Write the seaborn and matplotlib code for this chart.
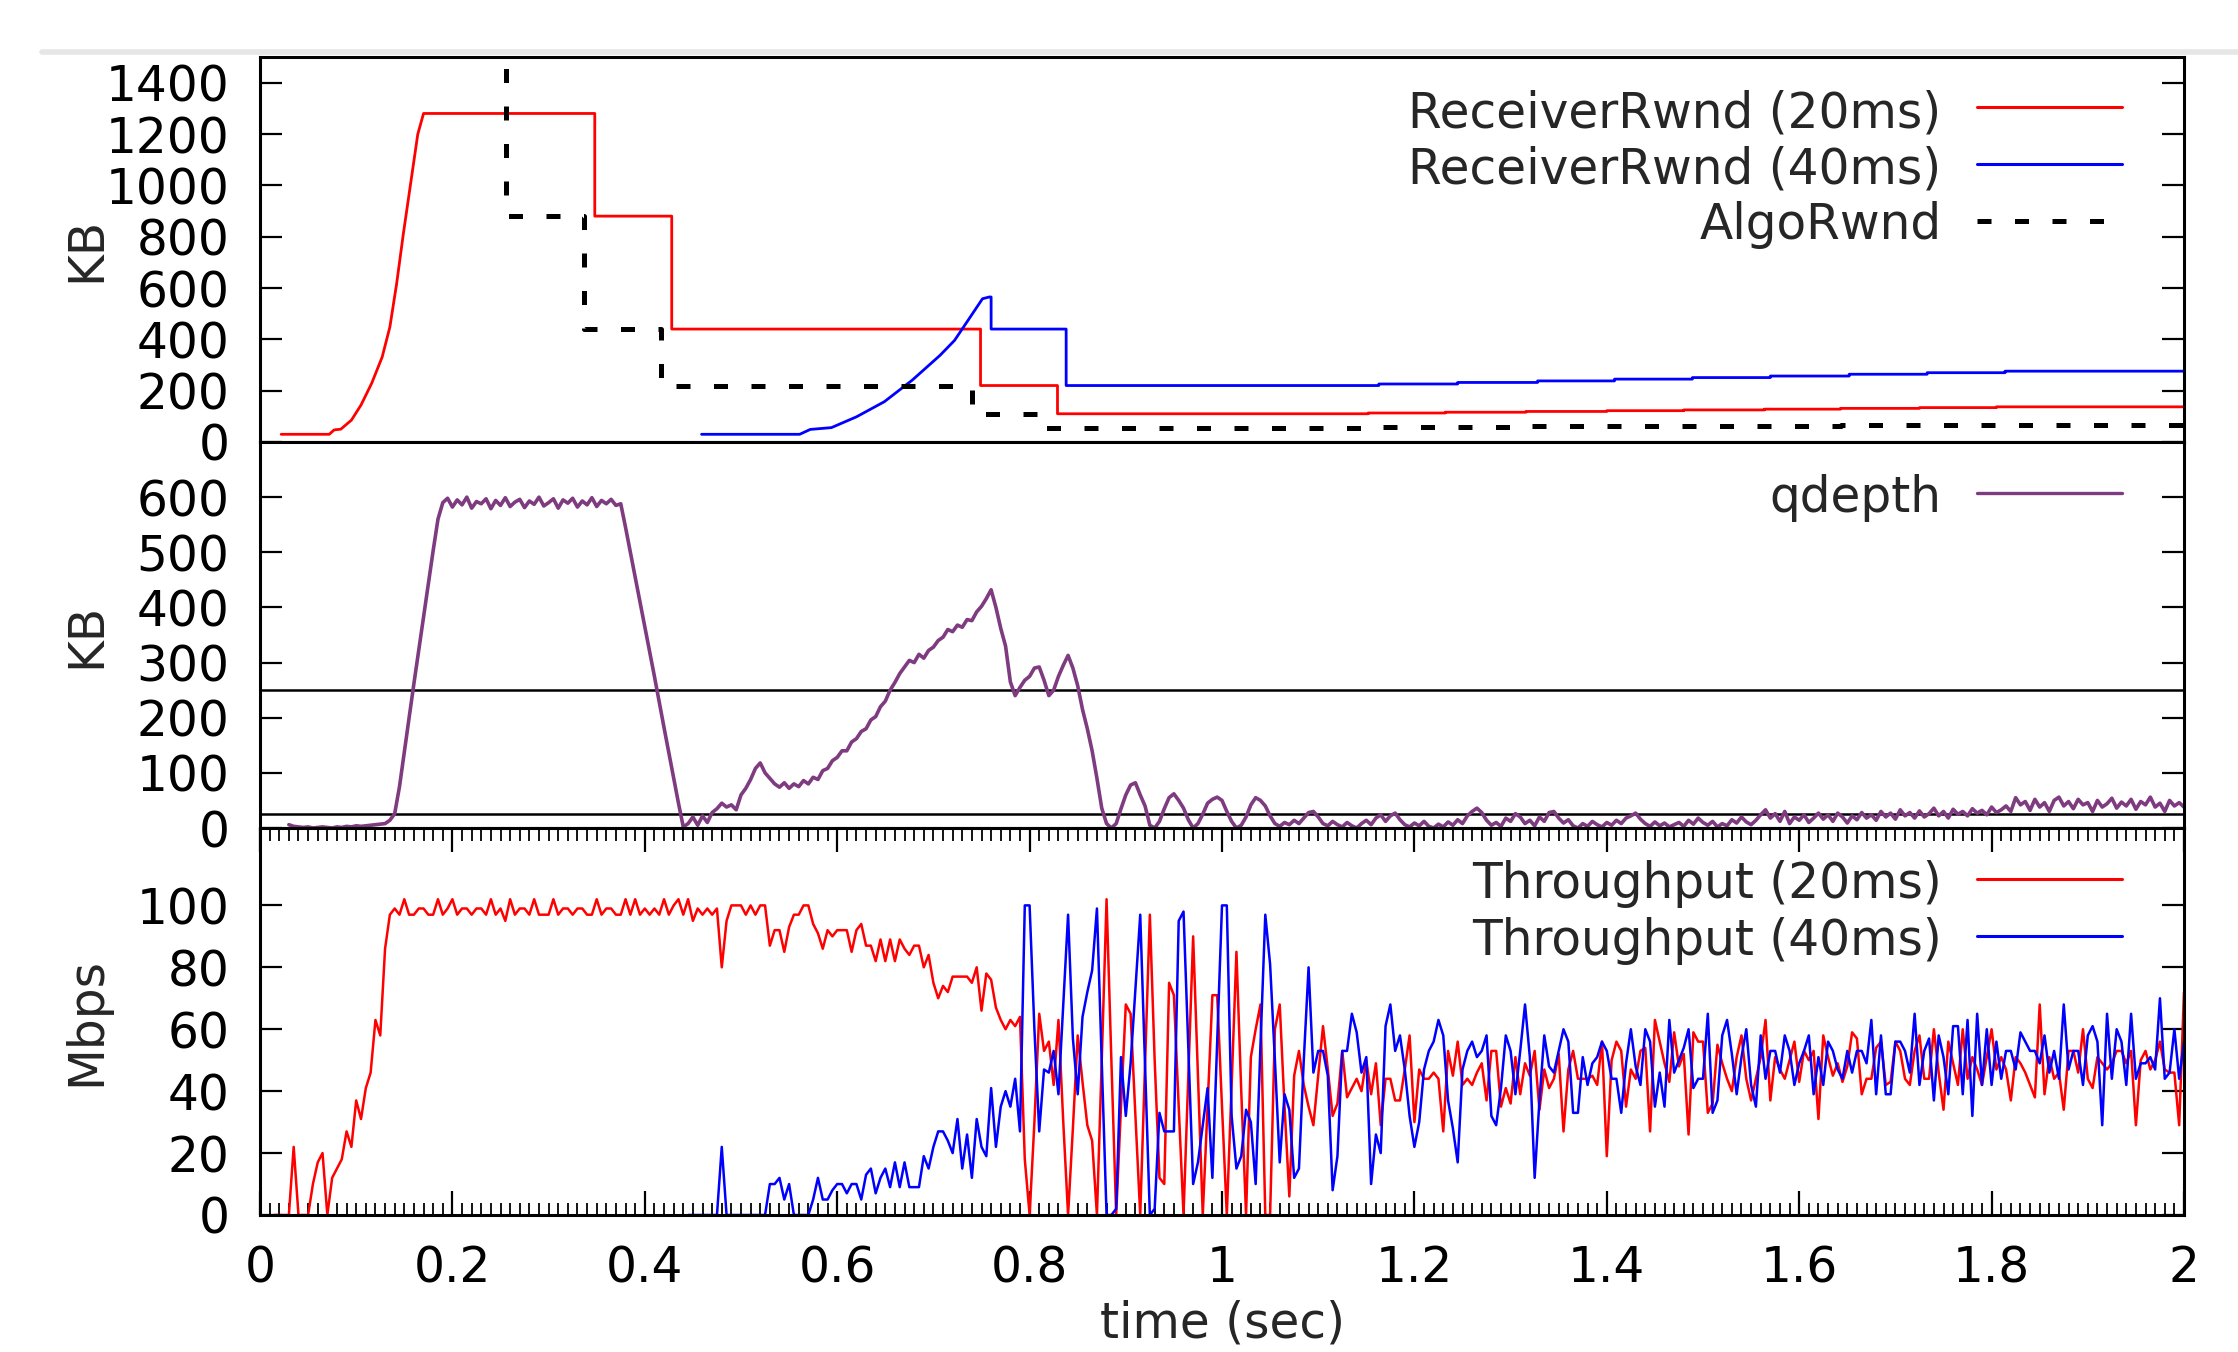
import matplotlib
matplotlib.use("Agg")
import matplotlib.pyplot as plt
from matplotlib.lines import Line2D
from matplotlib.ticker import FuncFormatter, MultipleLocator
import numpy as np
import seaborn as sns

# ---------------------------------------------------------------- data ----
STEP = 0.005  # sample spacing of the qdepth / throughput traces (s)

# top panel, receiver windows (KB): ramp corners, then step levels
rwnd20_ramp_t = [0.022, 0.072, 0.077, 0.084, 0.095, 0.105, 0.116, 0.127,
                 0.135, 0.142, 0.149, 0.157, 0.164]
rwnd20_ramp_kb = [30, 30, 47, 50, 85, 144, 228, 331, 448, 616, 811, 1018, 1199]
rwnd20_step_t = [0.170, 0.348, 0.428, 0.749, 0.829, 1.152, 1.232, 1.316,
                 1.400, 1.480, 1.564, 1.643, 1.725, 1.805]
rwnd20_step_kb = [1280, 880, 440, 220, 110, 113, 116, 119, 122, 125, 128,
                  131, 134, 137]

rwnd40_ramp_t = [0.459, 0.561, 0.572, 0.594, 0.620, 0.649, 0.678, 0.707,
                 0.722, 0.736, 0.751]
rwnd40_ramp_kb = [30, 30, 49, 56, 98, 157, 241, 338, 396, 474, 558]
rwnd40_step_t = [0.758, 0.760, 0.838, 1.163, 1.245, 1.328, 1.408, 1.489,
                 1.570, 1.652, 1.733, 1.814]
rwnd40_step_kb = [565, 440, 220, 226, 232, 238, 245, 251, 257, 264, 270, 276]

algo_step_t = [0.256, 0.256, 0.337, 0.417, 0.740, 0.817, 1.152, 1.316,
               1.480, 1.643, 1.805]
algo_step_kb = [1600, 880, 440, 220, 110, 56, 58, 61, 63, 65, 68]

# middle panel, queue depth (KB), sampled every STEP from 0.03 s
q_start = 0.03
q_idle = [6, 3, 2, 1, 2, 0, 1, 2, 1, 0, 2, 1, 3, 2, 4, 3, 4, 5, 6, 7]
q_rise = [8, 14, 26, 75, 138, 200, 262, 322, 382, 443, 503, 560]
q_plateau = [590, 598, 582, 595, 586, 600, 580, 592, 588, 597,
             579, 594, 585, 599, 583, 591, 596, 581, 593, 587,
             600, 584, 590, 597, 580, 595, 589, 598, 582, 593,
             586, 599, 583, 594, 588, 596, 585]
q_drain = [588, 545, 500, 455, 410, 365, 320, 275, 228, 182, 136, 90, 45, 2]
q_low = [8, 20, 5, 22, 10, 28, 35]
q_second = [45, 38, 42, 33, 60, 72, 88, 108, 118, 100,
            90, 80, 74, 82, 72, 80, 75, 86, 80, 92,
            88, 104, 108, 122, 128, 140, 140, 156, 162, 175,
            180, 196, 202, 220, 230, 250, 264, 280, 292, 304,
            300, 315, 308, 322, 328, 340, 346, 360, 356, 368,
            364, 378, 376, 392, 402, 416, 432, 400, 362, 330,
            265, 240, 255, 268, 275, 290, 292, 268, 240, 250,
            275, 295, 313, 290, 258, 215, 180, 140, 90, 36,
            8, 0, 8, 35, 60, 78, 82, 60, 40, 5,
            0, 12, 35, 55, 62, 50, 36, 15, 0, 8,
            25]
q_ripple = [45, 52, 56, 50, 30, 12, 0, 5, 20, 42,
            55, 50, 40, 22, 8, 3, 10, 6, 14, 8,
            18, 28, 30, 20, 8, 4, 12, 6]
q_tail = [2, 10, 4, 0, 8, 14, 6, 18, 24, 12,
          22, 27, 15, 6, 2, 9, 4, 12, 3, 0,
          7, 2, 11, 5, 15, 8, 22, 30, 36, 28,
          14, 5, 10, 3, 18, 12, 26, 20, 8, 14,
          4, 20, 12, 28, 30, 18, 9, 15, 4, 0,
          8, 3, 12, 6, 2, 10, 5, 14, 8, 18,
          22, 27, 16, 8, 3, 11, 4, 9, 2, 6,
          10, 3, 14, 7, 18, 10, 5, 12, 2, 8,
          4, 15, 9, 20, 11, 6, 14, 24, 33, 18,
          26, 12, 30, 8, 20, 14, 24, 10, 18, 27,
          16, 24, 12, 27, 20, 9, 22, 15, 28, 18,
          24, 14, 30, 20, 27, 16, 33, 22, 28, 18,
          31, 20, 26, 36, 22, 30, 18, 34, 25, 30,
          22, 35, 27, 32, 24, 38, 28, 33, 40, 30,
          55, 42, 48, 32, 52, 38, 46, 30, 50, 56,
          40, 48, 35, 52, 42, 46, 30, 50, 38, 44,
          54, 36, 47, 40, 52, 34, 48, 42, 56, 38,
          45, 30, 50, 40, 46, 38]
queue_kb = q_idle + q_rise + q_plateau + q_drain + q_low + q_second + q_ripple + q_tail
queue_lines_kb = [250, 25]

# bottom panel, throughput (Mbps), sampled every STEP
tput20_start = 0.015
tput20_ramp = [0, 0, 0, 0, 22, 0, 0, 0, 10, 17, 20, 0, 12, 15, 18, 27, 22, 37,
               31, 41, 46, 63, 58, 86, 97]
tput20_full = [99, 97, 102, 97, 97, 99, 99, 97, 97, 102, 97, 99, 102, 97, 99,
               99, 97, 99, 99, 97, 102, 97, 99, 95, 102, 97, 99, 99, 97, 102,
               97, 97, 97, 102, 97, 99, 99, 97, 99, 99, 97, 97, 102, 97, 99,
               99, 97, 97, 102, 97, 102, 97, 99, 97, 99, 97, 102, 97, 100, 102,
               97, 102, 95, 99, 97]
tput20_decline = [99, 97, 99, 80, 95, 100, 100, 100, 97, 100, 97, 100, 100, 87,
                  92, 92, 85, 93, 97, 97, 100, 100, 94, 91, 86, 92, 90, 92, 92,
                  92, 85, 92, 94, 87, 87, 82, 89, 82, 89, 82, 89, 86, 84, 87, 87,
                  80, 84, 75, 70, 74, 72]
tput20_chaos = [77, 77, 77, 77, 75, 80, 66, 78, 76, 67, 63, 60, 63, 61, 64, 18,
                0, 30, 65, 53, 56, 42, 63, 30, 0, 28, 58, 43, 29, 24, 0, 50, 102,
                50, 0, 35, 68, 65, 32, 0, 48, 97, 50, 12, 10, 75, 71, 35, 0, 45,
                90, 45, 0, 35, 71, 71, 35, 0, 42, 85, 40, 0, 51, 60]
tput20_settle = [68, 0, 0, 60, 68, 35, 6, 45, 53, 42, 35, 29, 45, 61, 47, 32,
                 36, 53, 38, 41, 44, 40, 50, 39, 49, 29, 44, 44, 37, 37, 47, 58,
                 30, 47, 44, 44, 46, 44, 27, 53, 45, 56, 42, 44, 42, 46, 49, 37,
                 53, 53, 35, 41, 36, 51, 39, 49, 45, 53, 34, 47, 41, 44, 52, 27,
                 47, 53, 44]
tput20_steady = [44, 44, 45, 42, 56, 19, 50, 56, 53, 35, 47, 44, 53, 54, 27, 63,
                 56, 49, 43, 59, 48, 52, 26, 59, 56, 56, 33, 36, 55, 49, 44, 40,
                 51, 58, 44, 37, 44, 51, 63, 37, 51, 47, 44, 50, 56, 43, 53, 50,
                 53, 31, 58, 51, 45, 49, 43, 48, 59, 57, 39, 44, 44, 54, 56, 42,
                 43, 56, 53, 44, 42, 53, 58, 44, 44, 60, 46, 34, 56, 49, 42, 60,
                 44, 51, 47, 42, 51, 60, 47, 51, 47, 37, 51, 49, 46, 42, 38, 68,
                 39, 51, 44, 46, 34, 53, 53, 46, 60, 44, 41, 51, 49, 47, 49, 53,
                 53, 49, 53, 29, 50, 53, 47, 50, 56, 47, 46, 46, 29, 72]
tput20 = tput20_ramp + tput20_full + tput20_decline + tput20_chaos + tput20_settle + tput20_steady

tput40_start = 0.445
tput40_ramp = [0, 0, 0, 0, 0, 0, 0, 22, 0, 0, 0, 0, 0, 0, 0, 0, 0, 10, 10, 12,
               5, 10, 0, 0, 0, 0, 5, 12, 5, 5, 8, 10, 10, 7, 10, 10, 5, 13, 15,
               7, 12, 15, 9, 17, 9, 17, 9, 9, 9, 19, 15, 22, 27, 27, 24]
tput40_chaos = [20, 31, 15, 26, 12, 31, 22, 19, 41, 22, 35, 40, 35, 44, 27, 100,
                100, 60, 27, 47, 46, 53, 39, 68, 97, 57, 39, 64, 72, 79, 99, 50,
                0, 0, 2, 51, 32, 49, 73, 97, 48, 0, 2, 33, 27, 27, 27, 95, 98,
                54, 10, 17, 29, 41, 12, 56, 100, 100, 32, 15, 19, 34, 30, 10]
tput40_settle = [55, 97, 81, 50, 17, 39, 34, 12, 15, 50, 80, 46, 53, 53, 45, 8,
                 19, 53, 53, 65, 59, 46, 51, 10, 26, 20, 61, 68, 53, 58, 47, 32,
                 22, 30, 47, 53, 56, 63, 58, 37, 28, 17, 47, 53, 56, 51, 53, 58,
                 32, 29, 41, 58, 53, 39, 53, 68, 51, 12, 37, 58, 48, 46, 53, 60,
                 56, 33, 33]
tput40_steady = [51, 42, 49, 51, 56, 53, 44, 44, 33, 49, 60, 48, 42, 60, 56, 35,
                 46, 35, 63, 46, 50, 54, 60, 41, 44, 44, 65, 33, 37, 58, 63, 52,
                 39, 51, 60, 42, 35, 58, 44, 53, 53, 46, 58, 53, 42, 49, 53, 58,
                 39, 51, 42, 56, 53, 47, 44, 53, 46, 53, 53, 49, 63, 39, 58, 39,
                 39, 56, 56, 53, 46, 65, 42, 53, 57, 37, 58, 51, 39, 61, 61, 39,
                 63, 32, 65, 42, 60, 42, 56, 44, 53, 53, 47, 59, 56, 53, 53, 49,
                 58, 46, 53, 44, 68, 47, 53, 53, 42, 58, 61, 56, 29, 65, 44, 60,
                 56, 42, 65, 44, 49, 49, 51, 47, 70, 44, 46, 60, 44, 56]
tput40 = tput40_ramp + tput40_chaos + tput40_settle + tput40_steady

RED, BLUE, PURPLE = "#ff0000", "#0000ff", "#7e3b80"
FS = 35


def step_path(ts, vs, t_end):
    xs, ys = [], []
    for i, (t, v) in enumerate(zip(ts, vs)):
        nxt = ts[i + 1] if i + 1 < len(ts) else t_end
        xs += [t, nxt]
        ys += [v, v]
    return xs, ys


def sampled(t0, values):
    return t0 + STEP * np.arange(len(values)), np.asarray(values, float)


def draw(ax, x, y, color, lw, **kw):
    sns.lineplot(x=np.asarray(x, float), y=np.asarray(y, float), ax=ax,
                 color=color, lw=lw, estimator=None, sort=False,
                 legend=False, **kw)


def legend_entry(ax, y_line, y_text, label, color, lw, ls="-"):
    ax.text(0.874, y_text, label, transform=ax.transAxes, ha="right",
            va="baseline", fontsize=FS)
    ax.add_line(Line2D([0.8924, 0.9678], [y_line, y_line],
                       transform=ax.transAxes, color=color, lw=lw, ls=ls,
                       clip_on=False))


sns.set_theme(style="ticks")
plt.rcParams["font.family"] = ["DejaVu Sans"]

fig = plt.figure(figsize=(22.38, 13.52), dpi=100)
fig.patch.set_facecolor("white")
W_PX, H_PX = 2238, 1352


def panel(top_px, bot_px):
    return fig.add_axes([260 / W_PX, 1 - bot_px / H_PX, 1924 / W_PX,
                         (bot_px - top_px) / H_PX])


ax_top = panel(57, 442)
ax_mid = panel(442, 828)
ax_bot = panel(828, 1215)

# faint shadow strip of the original screenshot
fig.add_artist(Line2D([42 / W_PX, 1], [1 - 52 / H_PX] * 2, color="#e6e6e6",
                      lw=4))

# ---- top: windows
xs, ys = step_path(rwnd20_step_t, rwnd20_step_kb, 2.0)
draw(ax_top, rwnd20_ramp_t + xs, rwnd20_ramp_kb + ys, RED, 2.0)
xs, ys = step_path(rwnd40_step_t, rwnd40_step_kb, 2.0)
draw(ax_top, rwnd40_ramp_t + xs, rwnd40_ramp_kb + ys, BLUE, 2.0)
xs, ys = step_path(algo_step_t, algo_step_kb, 2.0)
algo_ls = (0, (2.8, 4.7))
draw(ax_top, xs, ys, "black", 3.6, linestyle=algo_ls)
ax_top.lines[-1].set_linestyle(algo_ls)
ax_top.set_ylim(0, 1500)
ax_top.set_yticks(range(0, 1401, 200))
legend_entry(ax_top, 0.870, 0.818, "ReceiverRwnd (20ms)", RED, 2.2)
legend_entry(ax_top, 0.722, 0.671, "ReceiverRwnd (40ms)", BLUE, 2.2)
legend_entry(ax_top, 0.574, 0.527, "AlgoRwnd", "black", 3.6, algo_ls)

# ---- middle: queue depth
for level in queue_lines_kb:
    ax_mid.axhline(level, color="black", lw=1.8, zorder=1.5)
qt, qv = sampled(q_start, queue_kb)
draw(ax_mid, qt, qv, PURPLE, 2.6)
ax_mid.set_ylim(0, 700)
ax_mid.set_yticks(range(0, 601, 100))
legend_entry(ax_mid, 0.869, 0.819, "qdepth", PURPLE, 2.4)

# ---- bottom: throughput
t20, v20 = sampled(tput20_start, tput20)
t40, v40 = sampled(tput40_start, tput40)
draw(ax_bot, t20, v20, RED, 1.8)
draw(ax_bot, t40, v40, BLUE, 1.8)
ax_bot.set_ylim(0, 125)
ax_bot.set_yticks(range(0, 101, 20))
legend_entry(ax_bot, 0.867, 0.818, "Throughput (20ms)", RED, 2.2)
legend_entry(ax_bot, 0.721, 0.672, "Throughput (40ms)", BLUE, 2.2)

for ax in (ax_top, ax_mid, ax_bot):
    ax.set_xlim(0, 2)
    ax.set_xlabel("")
    ax.set_ylabel("")
    ax.set_facecolor("white")
    for sp in ax.spines.values():
        sp.set_visible(True)
        sp.set_linewidth(2.2)
        sp.set_color("black")
    ax.tick_params(axis="y", which="major", direction="in", length=16,
                   width=1.6, left=True, right=True, labelsize=FS, pad=22,
                   colors="black")
for ax in (ax_top, ax_mid):
    ax.tick_params(axis="x", which="both", bottom=False, top=False,
                   labelbottom=False)

ax_bot.xaxis.set_major_locator(MultipleLocator(0.2))
ax_bot.xaxis.set_minor_locator(MultipleLocator(0.01))
ax_bot.xaxis.set_major_formatter(FuncFormatter(lambda v, _: f"{v:g}"))
ax_bot.tick_params(axis="x", which="major", direction="in", length=17,
                   width=1.6, top=True, bottom=True, labelsize=FS, pad=21,
                   colors="black")
ax_bot.tick_params(axis="x", which="minor", direction="in", length=9,
                   width=1.3, top=True, bottom=True, colors="black")

fig.text(86 / W_PX, 1 - 249 / H_PX, "KB", rotation=90, ha="center",
         va="center", fontsize=FS)
fig.text(86 / W_PX, 1 - 635 / H_PX, "KB", rotation=90, ha="center",
         va="center", fontsize=FS)
fig.text(86 / W_PX, 1 - 1021 / H_PX, "Mbps", rotation=90, ha="center",
         va="center", fontsize=FS)
fig.text(1222 / W_PX, 1 - 1338 / H_PX, "time (sec)", ha="center",
         va="baseline", fontsize=FS)

fig.savefig("out.png", dpi=100)
